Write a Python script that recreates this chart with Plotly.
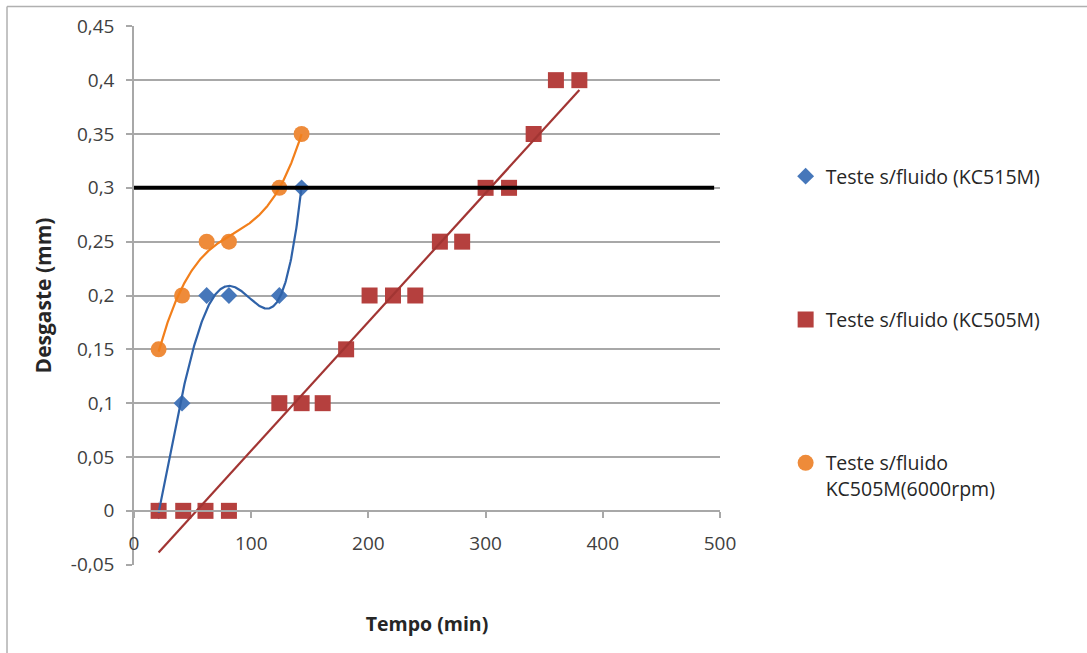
import numpy as np
import plotly.graph_objects as go

# ---- data ----
kc515_x = [21, 41, 62, 81, 124, 143]
kc515_y = [0.0, 0.1, 0.2, 0.2, 0.2, 0.3]

kc505_x = [21, 42, 61, 81, 124, 143, 161, 181, 201, 221, 240, 261, 280, 300, 320, 341, 360, 380]
kc505_y = [0.0, 0.0, 0.0, 0.0, 0.1, 0.1, 0.1, 0.15, 0.2, 0.2, 0.2, 0.25, 0.25, 0.3, 0.3, 0.35, 0.4, 0.4]

rpm_x = [21, 41, 62, 81, 124, 143]
rpm_y = [0.15, 0.2, 0.25, 0.25, 0.3, 0.35]

limit_y = 0.3
limit_x = [-4, 495]

x_tickvals = [0, 100, 200, 300, 400, 500]
x_ticktext = ["0", "100", "200", "300", "400", "500"]
y_tickvals = [-0.05, 0, 0.05, 0.1, 0.15, 0.2, 0.25, 0.3, 0.35, 0.4, 0.45]
y_ticktext = ["-0,05", "0", "0,05", "0,1", "0,15", "0,2", "0,25", "0,3", "0,35", "0,4", "0,45"]

names = ["Teste s/fluido (KC515M)", "Teste s/fluido (KC505M)", "Teste s/fluido<br>KC505M(6000rpm)"]

# ---- trendlines (Excel-style polynomial / linear fits) ----
def poly_curve(x, y, order):
    c = np.polyfit(x, y, order)
    xs = np.linspace(min(x), max(x), 300)
    return xs, np.polyval(c, xs)

bx, by = poly_curve(kc515_x, kc515_y, 4)
rx, ry = poly_curve(kc505_x, kc505_y, 1)
ox, oy = poly_curve(rpm_x, rpm_y, 3)

BLUE_M = "#4677BA"
BLUE_L = "#2F62A8"
RED_M = "#B5403E"
RED_L = "#A23533"
ORANGE_M = "#EE8B3A"
ORANGE_L = "#F27F1B"

FONT = "Open Sans"
GRID = "#A8A8A8"

fig = go.Figure()

fig.add_trace(go.Scatter(x=kc515_x, y=kc515_y, mode="markers", name=names[0],
                         legendgroup="a",
                         marker=dict(symbol="diamond", size=13, color=BLUE_M)))
fig.add_trace(go.Scatter(x=kc505_x, y=kc505_y, mode="markers", name=names[1],
                         legendgroup="b",
                         marker=dict(symbol="square", size=16, color=RED_M)))
fig.add_trace(go.Scatter(x=rpm_x, y=rpm_y, mode="markers", name=names[2],
                         legendgroup="c",
                         marker=dict(symbol="circle", size=16, color=ORANGE_M)))

fig.add_trace(go.Scatter(x=bx, y=by, mode="lines", showlegend=False,
                         line=dict(color=BLUE_L, width=2.2)))
fig.add_trace(go.Scatter(x=rx, y=ry, mode="lines", showlegend=False,
                         line=dict(color=RED_L, width=2.2)))
fig.add_trace(go.Scatter(x=ox, y=oy, mode="lines", showlegend=False,
                         line=dict(color=ORANGE_L, width=2.2)))

fig.add_shape(type="line", xref="x", yref="y", x0=limit_x[0], x1=limit_x[1],
              y0=limit_y, y1=limit_y, line=dict(color="black", width=4))

# chart outer frame (top and left edges visible)
fig.add_shape(type="line", xref="paper", yref="paper", x0=-0.2167, x1=1.64,
              y0=1.036, y1=1.036, line=dict(color="#B0B0B0", width=1.5))
fig.add_shape(type="line", xref="paper", yref="paper", x0=-0.2167, x1=-0.2167,
              y0=1.036, y1=-0.2, line=dict(color="#B0B0B0", width=1.5))

yr = [-0.05, 0.45]
fig.update_layout(
    width=1087, height=653,
    margin=dict(l=134, r=367, t=26, b=88),
    paper_bgcolor="white", plot_bgcolor="white",
    font=dict(family=FONT, size=19, color="#404040"),
    showlegend=True,
    legend=dict(x=1.112, y=0.757, xanchor="left", yanchor="top",
                font=dict(family=FONT, size=19.5, color="#262626"),
                tracegroupgap=115, valign="top", itemwidth=30,
                bgcolor="rgba(0,0,0,0)"),
    xaxis=dict(range=[0, 500], tickvals=x_tickvals, ticktext=x_ticktext,
               showgrid=False, zeroline=False,
               showline=True, linecolor=GRID, linewidth=1.5,
               ticks="outside", ticklen=6, tickcolor=GRID, tickwidth=1.5,
               anchor="free", position=(0 - yr[0]) / (yr[1] - yr[0]),
               ticklabelstandoff=9,
               tickfont=dict(family=FONT, size=19, color="#404040"),
               title=dict(text="<b>Tempo (min)</b>", standoff=62,
                          font=dict(family=FONT, size=19.5, color="#262626"))),
    yaxis=dict(range=[yr[0] - 0.0003, yr[1] + 0.0003], tickvals=y_tickvals, ticktext=y_ticktext,
               showgrid=True, gridcolor=GRID, gridwidth=1.5, zeroline=False,
               showline=True, linecolor=GRID, linewidth=1.5,
               ticks="outside", ticklen=6, tickcolor=GRID, tickwidth=1.5,
               ticklabelstandoff=8,
               tickfont=dict(family=FONT, size=19, color="#404040"),
               title=dict(text="<b>Desgaste (mm)</b>", standoff=13,
                          font=dict(family=FONT, size=21, color="#262626"))),
)

fig.write_html("out.html")
